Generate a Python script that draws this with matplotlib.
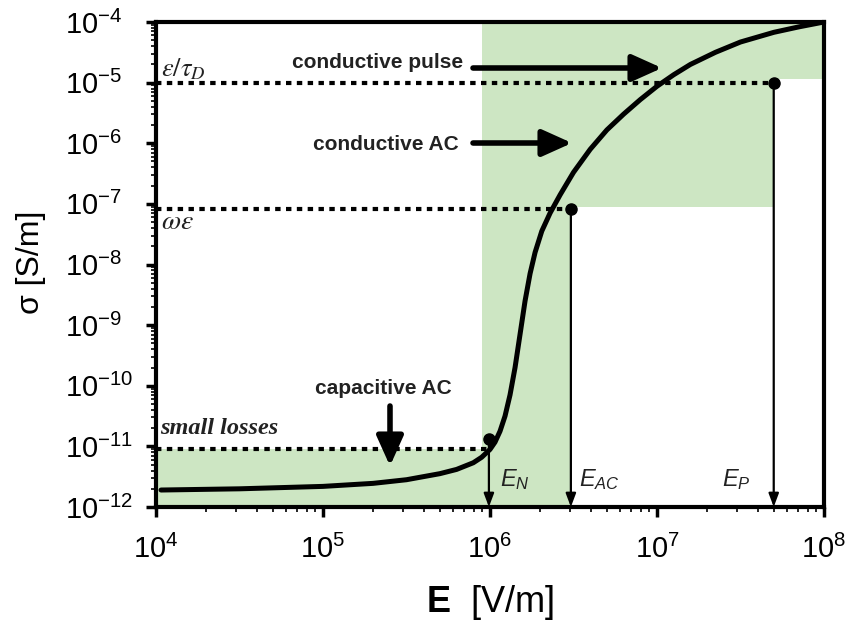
import numpy as np
import matplotlib
matplotlib.use("Agg")
import matplotlib.pyplot as plt
from matplotlib.ticker import LogLocator, NullFormatter

plt.rcParams['font.family'] = ['Liberation Sans', 'DejaVu Sans']
plt.rcParams['mathtext.fontset'] = 'custom'
plt.rcParams['mathtext.rm'] = 'Liberation Sans'
plt.rcParams['mathtext.it'] = 'Liberation Sans:italic'
plt.rcParams['mathtext.bf'] = 'Liberation Sans:bold'
plt.rcParams['axes.unicode_minus'] = False

# ---- data (log10 values) ----
logE_curve = [4.03, 4.5, 5.0, 5.3, 5.5, 5.7, 5.8, 5.9, 5.95, 6.0, 6.03, 6.06,
              6.09, 6.12, 6.15, 6.18, 6.21, 6.24, 6.27, 6.31, 6.36, 6.42, 6.5,
              6.6, 6.7, 6.8, 6.9, 7.0, 7.1, 7.2, 7.35, 7.5, 7.7, 7.85, 8.0]
logS_curve = [-11.72, -11.70, -11.66, -11.61, -11.55, -11.45, -11.38, -11.27,
              -11.18, -11.05, -10.93, -10.75, -10.50, -10.15, -9.70, -9.15,
              -8.60, -8.15, -7.80, -7.45, -7.15, -6.85, -6.48, -6.10, -5.78,
              -5.52, -5.28, -5.06, -4.87, -4.70, -4.50, -4.33, -4.17, -4.08, -4.0]
E_curve = [10**v for v in logE_curve]
sigma_curve = [10**v for v in logS_curve]

E_N, E_AC, E_P = 1.0e6, 3.05e6, 5.0e7
sigma_small, sigma_omega, sigma_tau = 9.1e-12, 8.3e-8, 1.0e-5
dot_small = 1.3e-11
green_left_E = 9.0e5
green_mid_sigma = 9.0e-8
green_right_sigma = 1.15e-5

x_ticks = [1e4, 1e5, 1e6, 1e7, 1e8]
y_ticks = [1e-12, 1e-11, 1e-10, 1e-9, 1e-8, 1e-7, 1e-6, 1e-5, 1e-4]

fig = plt.figure(figsize=(8.48, 6.30), dpi=100)
ax = fig.add_axes([156/848, 1-507/630, (824-156)/848, (507-22)/630])
ax.set_xscale('log')
ax.set_yscale('log')
ax.set_xlim(1e4, 1e8)
ax.set_ylim(1e-12, 1e-4)


def px2data(px, py):
    return 10**(4 + (px-156)/167.0), 10**(-4 - (py-22)/60.625)


green = '#cde6c3'
poly_E = [1e4, E_AC, E_AC, E_P, E_P, 1e8, 1e8, green_left_E, green_left_E, 1e4]
poly_S = [1e-12, 1e-12, green_mid_sigma, green_mid_sigma, green_right_sigma,
          green_right_sigma, 1e-4, 1e-4, sigma_small, sigma_small]
ax.fill(poly_E, poly_S, color=green, lw=0, zorder=0)

# dotted threshold lines
dot_kw = dict(color='black', lw=3, linestyle=(0, (1.3, 1.3)), dash_capstyle='butt', zorder=2)
ax.plot([1e4, E_P], [sigma_tau, sigma_tau], **dot_kw)
ax.plot([1e4, E_AC], [sigma_omega, sigma_omega], **dot_kw)
ax.plot([1e4, E_N], [sigma_small, sigma_small], **dot_kw)

# dots and vertical arrows
for e, s in [(E_P, sigma_tau), (E_AC, sigma_omega), (0.985e6, dot_small)]:
    ax.plot([e], [s], 'o', color='black', ms=8, zorder=4)
    ax.annotate('', xy=(e, 1e-12), xytext=(e, s),
                arrowprops=dict(arrowstyle='-|>,head_length=0.8,head_width=0.3',
                                lw=1.6, color='black', shrinkA=0, shrinkB=0),
                zorder=3)

# main curve
ax.plot(E_curve, sigma_curve, color='black', lw=3.6, solid_capstyle='round',
        solid_joinstyle='round', zorder=5)


# block arrows
def block_arrow(p0, p1):
    ax.annotate('', xy=px2data(*p1), xytext=px2data(*p0),
                arrowprops=dict(arrowstyle='-|>,head_length=1.0,head_width=0.45',
                                lw=4, color='black', shrinkA=0, shrinkB=0,
                                mutation_scale=18), zorder=6)


block_arrow((473, 68), (662, 68))
block_arrow((473, 143), (572, 143))
block_arrow((390, 406), (390, 466))

tc = '#222222'
ax.text(*px2data(463, 62), 'conductive pulse',
        ha='right', va='center', fontsize=15, fontweight='bold', color=tc)
ax.text(*px2data(459, 145), 'conductive AC',
        ha='right', va='center', fontsize=15, fontweight='bold', color=tc)
ax.text(*px2data(383, 388), 'capacitive AC',
        ha='center', va='center', fontsize=15, fontweight='bold', color=tc)

ax.text(*px2data(161, 69), r'$\varepsilon/\tau_D$',
        ha='left', va='center', fontsize=19, math_fontfamily='stix', color=tc)
ax.text(*px2data(161, 222), r'$\omega\varepsilon$',
        ha='left', va='center', fontsize=20, math_fontfamily='stix', color=tc)
ax.text(*px2data(160, 428), 'small losses',
        ha='left', va='center', fontsize=17.5, family='Liberation Serif',
        style='italic', fontweight='bold', color=tc)

ax.text(*px2data(500, 480), r'$E_{N}$', ha='left', va='center', fontsize=17, color=tc)
ax.text(*px2data(579, 480), r'$E_{AC}$', ha='left', va='center', fontsize=17, color=tc)
ax.text(*px2data(722, 480), r'$E_{P}$', ha='left', va='center', fontsize=17, color=tc)

# axes styling
for sp in ax.spines.values():
    sp.set_linewidth(3)
ax.set_xticks(x_ticks)
ax.set_yticks(y_ticks)
ax.xaxis.set_minor_locator(LogLocator(base=10, subs=np.arange(2, 10), numticks=20))
ax.yaxis.set_minor_locator(LogLocator(base=10, subs=np.arange(2, 10), numticks=20))
ax.xaxis.set_minor_formatter(NullFormatter())
ax.yaxis.set_minor_formatter(NullFormatter())
ax.tick_params(which='major', direction='out', length=7, width=2.5, labelsize=21)
ax.tick_params(which='minor', direction='out', length=3.5, width=1.2)
ax.tick_params(axis='x', which='major', pad=13)
# left-aligned y tick labels starting at x ~ 65 px
ax.tick_params(axis='y', which='major', pad=(156 - 65) / 1.3889 - 7)
for t in ax.get_yticklabels():
    t.set_horizontalalignment('left')

ax.set_xlabel(r'$\mathbf{E}$  [V/m]', fontsize=26, labelpad=14)
ax.set_ylabel('σ [S/m]', fontsize=23, labelpad=10)
ax.yaxis.set_label_coords(-(156 - 46) / 668, 1 - (262 - 22) / 485)

fig.savefig('out.png', dpi=100)
